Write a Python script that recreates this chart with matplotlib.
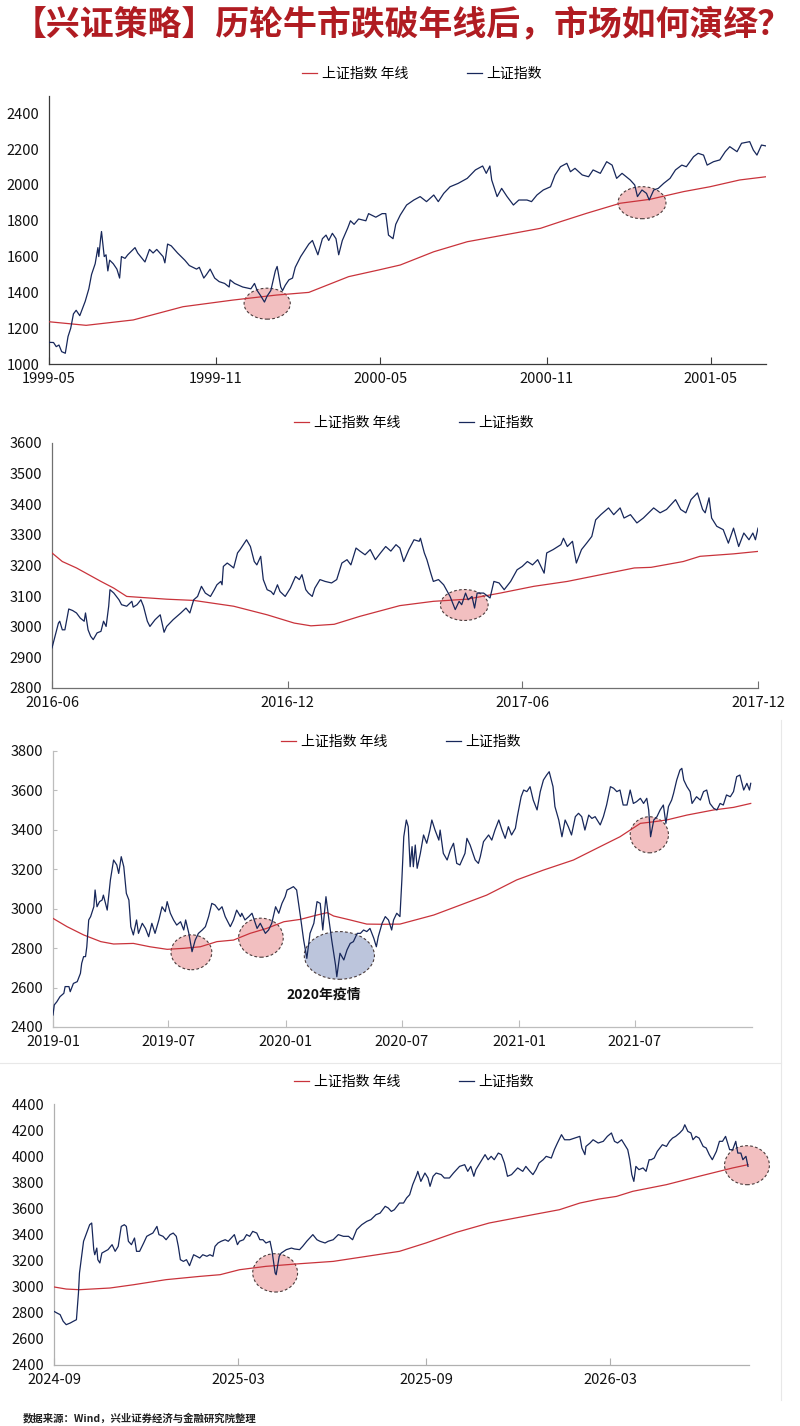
import pandas as pd
import matplotlib
matplotlib.use('Agg')
import matplotlib.pyplot as plt
import matplotlib.dates as mdates
from matplotlib.patches import Ellipse
from matplotlib.lines import Line2D

plt.rcParams['font.family'] = ['Noto Sans CJK SC', 'DejaVu Sans']
plt.rcParams['axes.unicode_minus'] = False

NAVY = '#17275a'
RED = '#c9333b'

# ---------------- panel 1: 1999-05 ~ 2001-07 ----------------
p1_start = '1999-05-01'
p1_idx_day = [0, 5, 8, 11, 14, 18, 21, 24, 27, 30, 34, 40, 44, 47, 51, 54, 55, 57, 58, 61,
              63, 65, 67, 71, 75, 78, 80, 84, 87, 95, 98, 106, 111, 115, 119, 126, 128, 131, 135, 142,
              150, 155, 163, 166, 171, 174, 178, 183, 188, 194, 199, 200, 205, 214, 223, 227, 230, 234, 238, 241,
              245, 250, 252, 256, 258, 261, 265, 269, 272, 278, 287, 291, 297, 302, 306, 309, 313, 317, 320, 324,
              330, 333, 337, 342, 350, 353, 361, 368, 372, 375, 380, 383,
              388, 395, 403, 410, 417, 425, 430, 436, 443, 452, 462, 471, 479, 483, 487, 489, 495, 500, 506, 513,
              519, 528, 533, 539, 546, 554, 559, 565, 572, 576, 581, 589, 596, 601, 609, 616, 622, 627, 633, 642,
              647, 650, 655, 660, 663, 668, 673, 679, 686, 692, 699, 704, 712, 717, 723, 727, 734, 741, 747, 752,
              760, 765, 774, 778, 782, 787, 792]
p1_idx_val = [1121, 1120, 1097, 1106, 1069, 1060, 1153, 1200, 1280, 1300, 1270, 1350, 1420, 1500, 1560, 1650, 1600, 1700, 1740, 1600,
              1610, 1520, 1580, 1560, 1530, 1480, 1600, 1590, 1610, 1650, 1620, 1570, 1640, 1620, 1640, 1600, 1565, 1670, 1660, 1620,
              1580, 1550, 1530, 1540, 1480, 1500, 1530, 1480, 1460, 1450, 1430, 1470, 1450, 1430, 1420, 1450, 1410, 1380, 1346, 1380,
              1410, 1520, 1545, 1430, 1410, 1440, 1470, 1480, 1540, 1600, 1670, 1690, 1610, 1700, 1720, 1690, 1730, 1700, 1610, 1690,
              1760, 1800, 1780, 1810, 1800, 1840, 1820, 1840, 1840, 1720, 1700, 1780,
              1832, 1888, 1916, 1935, 1907, 1944, 1907, 1953, 1990, 2009, 2037, 2084, 2106, 2065, 2106, 2028, 1935, 1981, 1935, 1888,
              1916, 1916, 1907, 1944, 1972, 1990, 2056, 2102, 2121, 2074, 2093, 2056, 2046, 2084, 2065, 2130, 2111, 2037, 2065, 2028,
              2000, 1935, 1972, 1953, 1916, 1972, 1981, 2009, 2037, 2084, 2111, 2102, 2158, 2177, 2167, 2111, 2130, 2140, 2186, 2214,
              2186, 2233, 2242, 2195, 2167, 2223, 2218]
p1_ma_day = [0, 41, 93, 148, 203, 251, 287, 331, 364, 388, 425, 462, 513, 543, 565, 594, 631, 664, 701, 730, 763, 792]
p1_ma_val = [1236, 1216, 1246, 1320, 1357, 1385, 1400, 1488, 1525, 1553, 1627, 1683, 1730, 1758, 1795, 1842, 1898, 1920,
             1963, 1990, 2028, 2046]
p1_ticks = ['1999-05', '1999-11', '2000-05', '2000-11', '2001-05']
p1_marks = [(241, 1337, 51, 173, 'red'), (655, 1901, 53, 179, 'red')]

# ---------------- panel 2: 2016-06 ~ 2017-12 ----------------
p2_start = '2016-06-01'
p2_idx_day = [0, 3, 5, 6, 8, 10, 13, 16, 19, 22, 25, 26, 28, 30, 32, 35, 38, 40, 42, 44,
              45, 48, 52, 54, 58, 62, 63, 66, 69, 71, 74, 76, 80, 84, 87, 89, 94, 100, 104, 107,
              110, 113, 116, 119, 123, 126, 128, 131, 132, 133, 136, 138, 141, 144, 146, 151, 154, 157, 159, 162,
              164, 167, 170, 172, 175, 177, 181, 185, 189, 192, 194, 197, 199, 202, 204, 208, 212, 217, 221, 225,
              229, 232, 236, 239, 243, 247, 251, 255, 259, 263, 267, 270, 273, 277, 281, 285, 286, 289, 291, 294,
              296, 300, 304, 309, 313, 316, 318, 321, 323, 326, 328, 330, 335, 340, 343, 347, 351, 356, 361, 365,
              369, 373, 377, 382, 384, 389, 395, 397, 400, 404, 407, 411, 415, 419, 422, 426, 432, 436, 441, 444,
              449, 454, 459, 467, 472, 477, 484, 488, 492, 496, 501, 505, 507, 510, 512, 516, 521, 525, 529, 533,
              537, 541, 544, 546, 548]
p2_idx_val = [2931, 2980, 3012, 3018, 2990, 2990, 3058, 3053, 3045, 3028, 3018, 3045, 2990, 2969, 2958, 2980, 2985, 3018, 3001, 3067,
              3121, 3110, 3088, 3072, 3067, 3083, 3064, 3072, 3088, 3067, 3018, 3001, 3023, 3039, 2982, 3001, 3023, 3045, 3061, 3045,
              3088, 3099, 3132, 3110, 3099, 3121, 3137, 3148, 3137, 3197, 3208, 3202, 3192, 3241, 3252, 3284, 3262, 3213, 3202, 3230,
              3154, 3121, 3115, 3105, 3137, 3115, 3099, 3126, 3164, 3154, 3170, 3121, 3110, 3099, 3126, 3154, 3148, 3143, 3154, 3208,
              3219, 3202, 3257, 3247, 3235, 3252, 3219, 3241, 3262, 3247, 3268, 3257, 3213, 3252, 3284, 3279, 3289, 3241, 3219, 3175,
              3148, 3154, 3137, 3099, 3056, 3083, 3072, 3110, 3088, 3099, 3061, 3110, 3110, 3094, 3148, 3143, 3121, 3148, 3186, 3197,
              3213, 3202, 3219, 3175, 3241, 3252, 3268, 3289, 3262, 3279, 3208, 3252, 3273, 3295, 3349, 3366, 3388, 3366, 3388, 3355,
              3366, 3339, 3355, 3388, 3372, 3383, 3415, 3383, 3372, 3415, 3437, 3383, 3372, 3421, 3355, 3328, 3317, 3273, 3322, 3262,
              3306, 3284, 3306, 3284, 3322]
p2_ma_day = [0, 8, 19, 38, 48, 58, 89, 110, 141, 167, 188, 201, 219, 239, 270, 296, 322, 348, 374, 400, 426, 452, 465,
             490, 503, 529, 548]
p2_ma_val = [3241, 3213, 3192, 3148, 3126, 3099, 3090, 3086, 3067, 3039, 3012, 3003, 3008, 3034, 3069, 3083, 3090, 3110,
             3132, 3148, 3170, 3192, 3194, 3213, 3230, 3238, 3246]
p2_ticks = ['2016-06', '2016-12', '2017-06', '2017-12']
p2_marks = [(320, 3071, 37, 101, 'red')]

# ---------------- panel 3: 2019-01 ~ 2021-12 ----------------
p3_start = '2019-01-01'
p3_idx_day = [0, 2, 6, 11, 17, 19, 25, 27, 32, 38, 43, 45, 48, 51, 53, 56, 59, 64, 66, 69,
              73, 77, 79, 85, 90, 95, 100, 103, 107, 111, 115, 119, 122, 126, 131, 134, 140, 145, 150, 155,
              160, 166, 171, 176, 179, 184, 189, 194, 200, 205, 208, 213, 218, 223, 228, 234, 239, 244, 249, 254,
              260, 265, 270, 278, 283, 288, 294, 296, 301, 307, 312, 320, 325, 333, 338, 343, 349, 354, 359, 364,
              367, 372, 377, 382, 388, 393, 398, 403, 409, 414, 419, 423, 428, 432, 437, 443, 445, 450, 456, 461,
              466, 471, 477, 482, 487, 492, 497, 503, 507, 510, 516, 521, 526, 531, 534, 539, 544,
              547, 550, 554, 557, 560, 563, 565, 568, 571, 576, 581, 586, 591, 594, 599, 605, 607, 612, 618,
              623, 628, 633, 638, 646, 649, 654, 662, 667, 670, 675, 683, 688, 693, 699, 704, 709, 714, 719, 725,
              728, 734, 738, 743, 748, 753, 759, 764, 769, 774, 778, 784, 787, 793, 798, 803, 808, 813, 819, 824,
              829, 834, 840, 845, 850, 858, 863, 868, 874, 879, 884, 889, 894, 900, 905, 910, 915, 921, 926, 931,
              934, 937, 942, 947, 952, 957, 961, 965, 970, 973, 978, 983, 986, 989, 994, 999, 1002, 1009, 1015, 1020,
              1025, 1030, 1036, 1041, 1046, 1051, 1056, 1062, 1067, 1072, 1077, 1083, 1088, 1092, 1094]
p3_idx_val = [2461, 2512, 2528, 2554, 2571, 2605, 2605, 2579, 2621, 2630, 2672, 2723, 2757, 2757, 2807, 2943, 2960, 3010, 3095, 3010,
              3036, 3044, 3069, 2993, 3146, 3247, 3222, 3179, 3264, 3213, 3078, 3044, 2909, 2867, 2943, 2875, 2926, 2900, 2858, 2926,
              2875, 2943, 3010, 2985, 3036, 2977, 2943, 2917, 2934, 2892, 2943, 2875, 2782, 2841, 2875, 2892, 2909, 2960, 3027, 3019,
              2993, 3010, 2960, 2909, 2943, 2993, 2960, 2977, 2943, 2960, 2977, 2900, 2926, 2875, 2892, 2926, 3010, 2977, 3027, 3061,
              3095, 3103, 3112, 3095, 2960, 2841, 2748, 2875, 2926, 3036, 3027, 2892, 3061, 2960, 2841, 2714, 2655, 2774, 2740, 2791,
              2824, 2833, 2875, 2875, 2892, 2884, 2900, 2850, 2807, 2858, 2926, 2960, 2943, 2892, 2943, 2977, 2960,
              3146, 3365, 3450, 3416, 3213, 3315, 3213, 3323, 3205, 3281, 3374, 3332, 3399, 3450, 3399, 3348, 3399, 3281, 3247,
              3298, 3332, 3230, 3222, 3281, 3357, 3323, 3247, 3230, 3264, 3340, 3374, 3348, 3399, 3450, 3399, 3357, 3416, 3374, 3408,
              3467, 3568, 3602, 3594, 3619, 3551, 3501, 3594, 3653, 3678, 3695, 3619, 3518, 3450, 3365, 3450, 3416, 3374, 3467, 3484,
              3467, 3399, 3475, 3458, 3467, 3425, 3467, 3526, 3619, 3611, 3594, 3602, 3526, 3526, 3602, 3534, 3543, 3560, 3534, 3560,
              3501, 3365, 3450, 3467, 3501, 3526, 3433, 3518, 3551, 3585, 3653, 3703, 3712, 3653, 3619, 3594, 3534, 3568, 3551, 3594,
              3602, 3534, 3509, 3501, 3534, 3526, 3577, 3568, 3594, 3670, 3678, 3602, 3636, 3602, 3636]
p3_ma_day = [0, 22, 48, 75, 95, 126, 152, 179, 205, 231, 257, 283, 309, 335, 362, 388, 414, 430, 440, 466, 492, 518,
             544, 597, 639, 680, 727, 769, 816, 858, 889, 921, 942, 962, 994, 1036, 1067, 1094]
p3_ma_val = [2951, 2909, 2867, 2833, 2821, 2824, 2807, 2794, 2799, 2807, 2833, 2841, 2875, 2900, 2934, 2946, 2968, 2980,
             2963, 2943, 2922, 2921, 2922, 2968, 3019, 3069, 3146, 3196, 3247, 3315, 3365, 3433, 3441, 3450, 3475, 3501,
             3514, 3534]
p3_ticks = ['2019-01', '2019-07', '2020-01', '2020-07', '2021-01', '2021-07']
p3_marks = [(217, 2779, 64, 177, 'red'), (326, 2853, 70, 198, 'red'),
            (449, 2763, 110, 242, 'blue'), (935, 3375, 60, 183, 'red')]
p3_note = (424, 2566, '2020年疫情')

# ---------------- panel 4: 2024-09 ~ 2026-07 ----------------
p4_start = '2024-09-01'
p4_idx_day = [0, 3, 6, 9, 12, 16, 19, 22, 24, 25, 29, 32, 35, 37, 39, 40, 42, 43, 45, 47,
              50, 53, 57, 60, 63, 66, 69, 71, 73, 76, 79, 81, 84, 88, 91, 94, 97, 101, 103, 107,
              110, 114, 117, 120, 122, 124, 127, 130, 133, 137, 140, 143, 146, 150, 153, 156, 158, 161, 164, 168,
              171, 174, 177, 180, 182, 186, 189, 192, 195, 199, 202, 205, 208, 212, 214, 217, 218, 221, 223, 228,
              233, 236, 241, 244, 248, 251, 254, 258, 261, 266, 269, 274, 279, 284, 289, 293, 297, 302, 307, 311,
              316, 320, 325, 328, 331, 334, 339,
              343, 346, 349, 352, 356, 357, 360, 364, 367, 369, 372, 375, 380, 383, 388, 392, 395, 398, 403, 406,
              409, 412, 414, 419, 423, 426, 429, 432, 436, 439, 442, 445, 449, 452, 455, 460, 463, 467, 470, 473,
              476, 480, 483, 488, 491, 494, 498, 501, 506, 511, 516, 518, 521, 522, 526, 529, 534, 539, 543, 547,
              550, 553, 557, 560, 563, 565, 567, 569, 571, 574, 578, 581, 584, 586, 589, 592, 597, 601, 604, 607,
              610, 614, 617, 619, 622, 625, 627, 630, 633, 637, 640, 643, 646, 650, 653, 656, 659, 663, 666, 669,
              671, 674, 676, 679, 681]
p4_idx_val = [2811, 2798, 2786, 2735, 2709, 2722, 2735, 2747, 2952, 3105, 3348, 3411, 3475, 3488, 3284, 3245, 3296, 3207, 3182, 3258,
              3271, 3284, 3322, 3271, 3309, 3462, 3475, 3462, 3348, 3322, 3373, 3271, 3271, 3335, 3386, 3399, 3411, 3462, 3399, 3386,
              3360, 3399, 3411, 3386, 3309, 3207, 3194, 3207, 3161, 3245, 3233, 3220, 3245, 3233, 3245, 3233, 3309, 3335, 3348, 3360,
              3348, 3373, 3399, 3322, 3348, 3360, 3399, 3386, 3424, 3411, 3360, 3360, 3335, 3348, 3271, 3105, 3092, 3233, 3258, 3284,
              3296, 3289, 3284, 3309, 3348, 3373, 3399, 3360, 3348, 3335, 3348, 3360, 3399, 3386, 3386, 3360, 3437, 3475, 3501, 3514,
              3552, 3564, 3616, 3603, 3577, 3590, 3641,
              3641, 3680, 3705, 3782, 3859, 3884, 3807, 3871, 3833, 3769, 3846, 3871, 3859, 3833, 3833, 3871, 3897, 3922, 3935, 3884,
              3922, 3846, 3897, 3961, 4012, 3973, 3999, 3973, 4024, 4012, 3948, 3846, 3859, 3884, 3910, 3884, 3922, 3884, 3859, 3897,
              3948, 3973, 3999, 3986, 4050, 4101, 4165, 4126, 4126, 4139, 4152, 4063, 4012, 4075, 4101, 4126, 4101, 4114, 4152, 4178,
              4114, 4101, 4126, 4088, 4050, 3973, 3859, 3807, 3922, 3897, 3910, 3884, 3973, 3973, 3986, 4037, 4088, 4075, 4114, 4139,
              4152, 4178, 4203, 4241, 4190, 4178, 4126, 4152, 4139, 4075, 4063, 4012, 3973, 4037, 4114, 4114, 4152, 4050, 4050, 4114,
              4024, 4024, 3973, 3999, 3922]
p4_ma_day = [0, 12, 25, 55, 78, 110, 143, 163, 182, 208, 241, 274, 307, 339, 365, 395, 427, 470, 496, 516, 535, 552,
             568, 601, 633, 666, 681]
p4_ma_val = [2998, 2982, 2977, 2990, 3015, 3054, 3079, 3092, 3130, 3156, 3176, 3194, 3233, 3271, 3335, 3417, 3488, 3552,
             3590, 3641, 3672, 3692, 3731, 3782, 3846, 3910, 3935]
p4_ticks = ['2024-09', '2025-03', '2025-09', '2026-03']
p4_marks = [(217, 3106, 44, 294, 'red'), (680, 3931, 44, 299, 'red')]

# ---------------- layout (pixel boxes in an 800x1426 canvas) ----------------
W, H = 800, 1426
panels = [
    dict(start=p1_start, iday=p1_idx_day, ival=p1_idx_val, mday=p1_ma_day, mval=p1_ma_val,
         ticks=p1_ticks, marks=p1_marks, box=(49, 96, 766, 364), xend=792,
         ylim=(1000, 2497), yticks=range(1000, 2401, 200), legend=(422, 74), spine='#3a3a3a', ytick_len=0),
    dict(start=p2_start, iday=p2_idx_day, ival=p2_idx_val, mday=p2_ma_day, mval=p2_ma_val,
         ticks=p2_ticks, marks=p2_marks, box=(52, 443, 758, 688), xend=548,
         ylim=(2800, 3600), yticks=range(2800, 3601, 100), legend=(414, 423), spine='#707070', ytick_len=0),
    dict(start=p3_start, iday=p3_idx_day, ival=p3_idx_val, mday=p3_ma_day, mval=p3_ma_val,
         ticks=p3_ticks, marks=p3_marks, box=(53, 751, 752, 1027), xend=1096,
         ylim=(2400, 3800), yticks=range(2400, 3801, 200), legend=(401, 742), spine='#bdbdbd', ytick_len=3),
    dict(start=p4_start, iday=p4_idx_day, ival=p4_idx_val, mday=p4_ma_day, mval=p4_ma_val,
         ticks=p4_ticks, marks=p4_marks, box=(54, 1104, 749, 1365), xend=682,
         ylim=(2400, 4400), yticks=range(2400, 4401, 200), legend=(414, 1082), spine='#b0b0b0', ytick_len=0),
]

fig = plt.figure(figsize=(W / 100, H / 100), dpi=100)
fig.patch.set_facecolor('white')

fill = {'red': '#f2bfc0', 'blue': '#bcc5dc'}

for k, p in enumerate(panels):
    l, t, r, b = p['box']
    ax = fig.add_axes([l / W, 1 - b / H, (r - l) / W, (b - t) / H])
    start = pd.Timestamp(p['start'])
    x_idx = start + pd.to_timedelta(p['iday'], unit='D')
    x_ma = start + pd.to_timedelta(p['mday'], unit='D')

    l_ma, = ax.plot(x_ma, p['mval'], color=RED, lw=0.9, zorder=3)
    l_idx, = ax.plot(x_idx, p['ival'], color=NAVY, lw=0.9, zorder=4)

    for d, v, wd, ht, c in p['marks']:
        cx = mdates.date2num(start + pd.Timedelta(days=d))
        e = Ellipse((cx, v), wd, ht, facecolor=fill[c], edgecolor='#4a3c3c',
                    lw=0.8, ls=(0, (2.5, 2)), zorder=2, clip_on=False)
        ax.add_patch(e)

    ax.set_xlim(start, start + pd.Timedelta(days=p['xend']))
    ax.set_ylim(*p['ylim'])
    ax.set_yticks(list(p['yticks']))
    ax.set_xticks([pd.Timestamp(s + '-01') for s in p['ticks']])
    ax.set_xticklabels(p['ticks'])

    for s in ['top', 'right']:
        ax.spines[s].set_visible(False)
    for s in ['left', 'bottom']:
        ax.spines[s].set_color(p['spine'])
        ax.spines[s].set_linewidth(0.9)
    ax.tick_params(axis='x', direction='in', length=5, width=0.8, color=p['spine'],
                   labelsize=10.5, pad=6, labelcolor='#111111')
    ax.tick_params(axis='y', direction='in', length=p['ytick_len'], width=0.8, color=p['spine'],
                   labelsize=10.5, pad=7, labelcolor='#111111')

    lx, ly = p['legend']
    fig.legend([l_ma, l_idx], ['上证指数 年线', '上证指数'], loc='center',
               bbox_to_anchor=(lx / W, 1 - ly / H), ncol=2, frameon=False,
               fontsize=10, handlelength=1.1, handletextpad=0.35, columnspacing=4.2)

    if k == 2:
        nd, nv, ntxt = p3_note
        ax.text(start + pd.Timedelta(days=nd), nv, ntxt, ha='center', va='center',
                fontsize=10, fontweight='bold', color='#111111', zorder=5)

fig.text(402 / W, 1 - 24 / H, '【兴证策略】历轮牛市跌破年线后，市场如何演绎？',
         ha='center', va='center', fontsize=24.4, fontweight='bold', color='#b01c22')
fig.text(23 / W, 1 - 1418 / H, '数据来源：Wind，兴业证券经济与金融研究院整理',
         ha='left', va='center', fontsize=7.5, fontweight='bold', color='#222222')

# faint borders of the stacked screenshots
fig.add_artist(Line2D([0, 781 / W], [1 - 1063 / H, 1 - 1063 / H], color='#e8e8e8', lw=0.8))
fig.add_artist(Line2D([781 / W, 781 / W], [1 - 1400 / H, 1 - 720 / H], color='#e8e8e8', lw=0.8))

fig.savefig('out.png', dpi=100, facecolor='white')
